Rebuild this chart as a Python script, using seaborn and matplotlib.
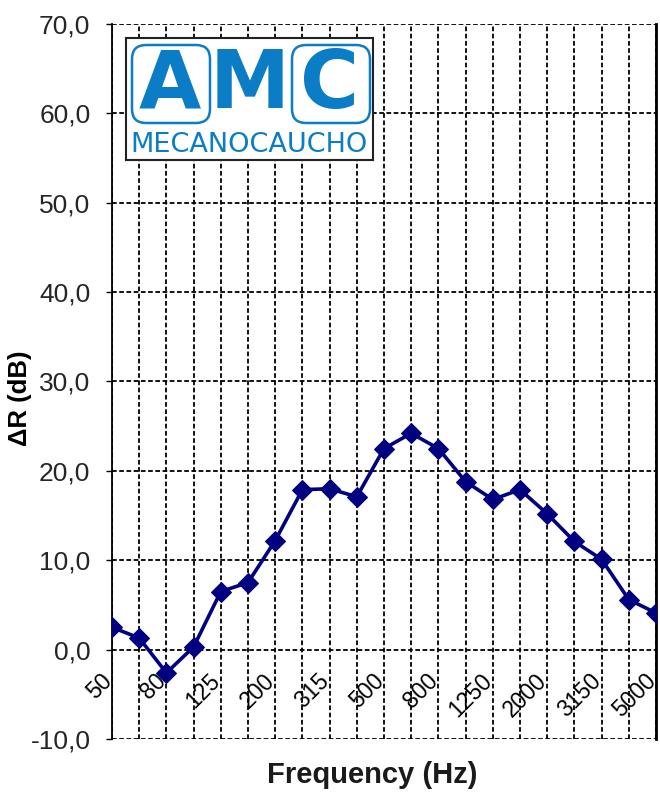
import pandas as pd
import numpy as np
import matplotlib
matplotlib.use('Agg')
import matplotlib.pyplot as plt
import seaborn as sns
from matplotlib.patches import FancyBboxPatch
from matplotlib.ticker import FuncFormatter, MultipleLocator

# Dados
frequencias = ['50', '63', '80', '100', '125', '160', '200', '250', '315', '400', '500',
               '630', '800', '1000', '1250', '1600', '2000', '2500', '3150', '4000', '5000']
delta_r = [2.5, 1.3, -2.6, 0.3, 6.5, 7.5, 12.2, 17.9, 18.0, 17.1, 22.5,
           24.2, 22.5, 18.8, 16.8, 17.9, 15.2, 12.1, 10.1, 5.6, 4.1]
rotulos_x = frequencias[::2]

df = pd.DataFrame({'freq': frequencias, 'dR': delta_r})

sns.set_style('white')
plt.rcParams['font.family'] = ['Liberation Sans', 'DejaVu Sans']

fig = plt.figure(figsize=(6.6, 7.96), dpi=100)
ax = fig.add_axes([112/660, 57/796, 544/660, 715/796])

sns.lineplot(data=df, x='freq', y='dR', sort=False, ax=ax, color='#000080',
             linewidth=2.6, marker='D', markersize=10, markeredgecolor='#000080', zorder=5)

ax.set_xlim(0, len(frequencias) - 1)
ax.set_ylim(-10, 70)
ax.yaxis.set_major_locator(MultipleLocator(10))
ax.yaxis.set_major_formatter(FuncFormatter(lambda v, p: f'{v:.1f}'.replace('.', ',')))
ax.set_xticks(range(len(frequencias)))
ax.set_xticklabels([])
ax.tick_params(axis='x', length=0)
ax.tick_params(axis='y', direction='out', length=4.5, width=1, color='black',
               labelsize=19, pad=11, left=True)

ax.grid(True, color='black', linestyle=(0, (2.6, 1.4)), linewidth=1.3)
for lado in ['top', 'bottom']:
    ax.spines[lado].set_visible(False)
ax.spines['left'].set_color('black')
ax.spines['left'].set_linewidth(1.3)
ax.spines['right'].set_color('black')
ax.spines['right'].set_linewidth(2)

# rótulos das frequências (a cada duas bandas), dentro da área do gráfico
for i, lab in enumerate(frequencias):
    if lab in rotulos_x:
        ax.text(i - 0.14, -3.1, lab, rotation=45, rotation_mode='anchor',
                ha='right', va='center', fontsize=16.5, color='black')

ax.set_xlabel('')
ax.set_ylabel('')
fig.text(372/660, 1 - 775/796, 'Frequency (Hz)', ha='center', va='center',
         fontsize=21, fontweight='bold', color='#1a1a1a')
fig.text(20/660, 1 - 398/796, 'ΔR (dB)', ha='center', va='center', rotation=90,
         fontsize=18.5, fontweight='bold', color='black')

# logotipo AMC
azul = '#0a7dc6'
logo = fig.add_axes([126/660, 1 - 160/796, 247/660, 122/796])
logo.set_xlim(0, 247)
logo.set_ylim(122, 0)
logo.set_xticks([])
logo.set_yticks([])
for s in logo.spines.values():
    s.set_color('#222222')
    s.set_linewidth(1.5)
logo.set_facecolor('white')
for x0 in [4, 164]:
    logo.add_patch(FancyBboxPatch((x0 + 2, 7), 78, 78, boxstyle='round,pad=0,rounding_size=14',
                                  fill=False, edgecolor=azul, linewidth=1.8))
for xc, letra in [(44, 'A'), (124, 'M'), (204, 'C')]:
    logo.text(xc, 48, letra, ha='center', va='center', fontsize=58, fontweight='heavy',
              color=azul, family='DejaVu Sans')
logo.text(123, 107, 'MECANOCAUCHO', ha='center', va='center', fontsize=19.5,
          color=azul, family='DejaVu Sans')

fig.savefig('out.png', dpi=100)
